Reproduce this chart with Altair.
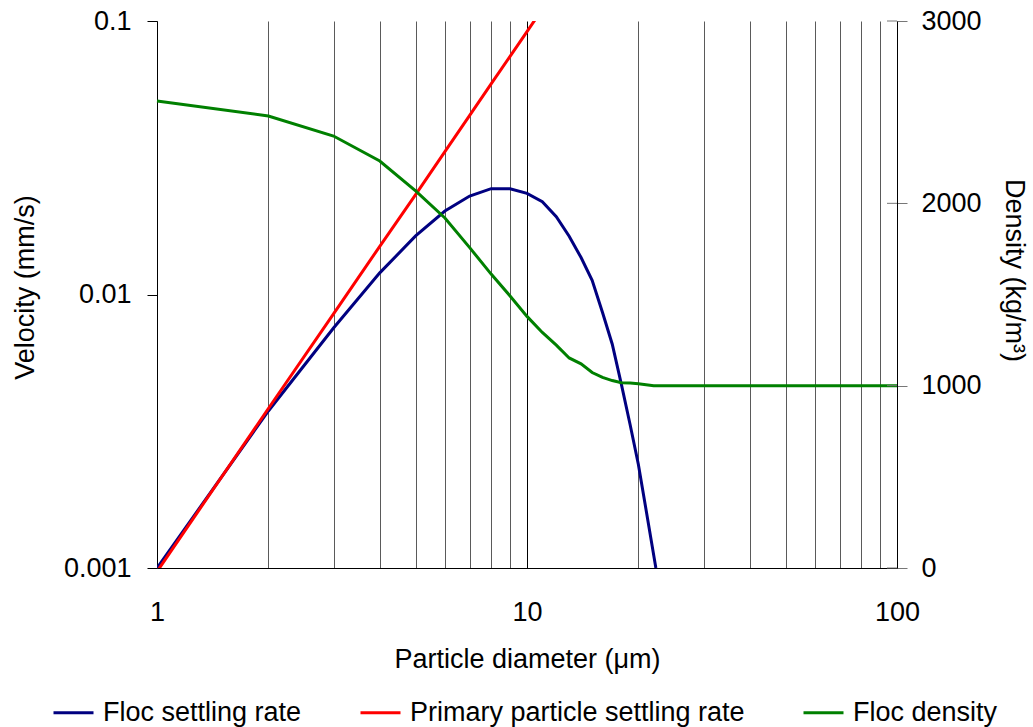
import altair as alt
import pandas as pd

# ---- data ----
series_names = ["Floc settling rate", "Primary particle settling rate", "Floc density"]
series_colors = ["#000080", "#FF0000", "#008000"]

floc_d = [1, 2, 3, 4, 5, 6, 7, 8, 9, 10, 11, 12, 13, 14, 15, 16, 17, 18, 19, 20, 21, 22.3]
floc_v = [0.001, 0.00375, 0.00754, 0.0120, 0.01637, 0.0202, 0.0229, 0.02437, 0.02437,
          0.02343, 0.02183, 0.01925, 0.01633, 0.01365, 0.01127, 0.00859, 0.00658,
          0.00468, 0.00334, 0.00239, 0.00162, 0.001]

prim_d = [1, 2, 3, 4, 5, 6, 7, 8, 9, 10, 11]
prim_v = [0.00097, 0.00383, 0.0085, 0.0150, 0.0232, 0.0333, 0.0452, 0.0589, 0.0743, 0.0915, 0.1105]

dens_d = [1, 2, 3, 4, 5, 6, 7, 8, 9, 10, 11, 12, 13, 14, 15, 16, 17, 18, 19, 20, 22,
          25, 30, 40, 50, 60, 70, 80, 90, 100]
dens_v = [2561, 2479, 2369, 2232, 2068, 1920, 1757, 1612, 1492, 1380, 1292, 1222, 1152,
          1120, 1072, 1045, 1028, 1016, 1014, 1011, 1000, 1000, 1000, 1000, 1000, 1000,
          1000, 1000, 1000, 1000]

x_ticks = [1, 2, 3, 4, 5, 6, 7, 8, 9, 10, 20, 30, 40, 50, 60, 70, 80, 90, 100]
x_label_ticks = [1, 10, 100]
vel_ticks = [0.001, 0.01, 0.1]
dens_ticks = [0, 1000, 2000, 3000]

vel_df = pd.concat([
    pd.DataFrame({"d": floc_d, "v": floc_v, "s": series_names[0]}),
    pd.DataFrame({"d": prim_d, "v": prim_v, "s": series_names[1]}),
])
dens_df = pd.DataFrame({"d": dens_d, "rho": dens_v, "s": series_names[2]})
tick_df = pd.DataFrame({"t": dens_ticks})

FONT = "Liberation Sans"
FS = 27
W, H = 740, 547

label_test = " || ".join(f"datum.value == {v}" for v in x_label_ticks)

x_enc = alt.X(
    "d:Q",
    scale=alt.Scale(type="log", domain=[1, 100], nice=False),
    axis=alt.Axis(
        values=x_ticks,
        title="Particle diameter (μm)",
        format="d",
        labelExpr=f"({label_test}) ? datum.label : ''",
        labelOverlap=False,
        labelFlush=False,
        grid=True,
        gridColor={"condition": {"test": "datum.value == 10", "value": "#000000"}, "value": "#5a5a5a"},
        gridWidth=1,
        ticks=False,
        labelPadding=31,
        titlePadding=21,
    ),
)

color_enc = alt.Color(
    "s:N",
    scale=alt.Scale(domain=series_names, range=series_colors),
    legend=alt.Legend(
        orient="none",
        legendX=-105,
        legendY=670,
        direction="horizontal",
        title=None,
        symbolType="stroke",
        symbolSize=1600,
        symbolStrokeWidth=3,
        labelFont=FONT,
        labelFontSize=FS,
        labelColor="black",
        labelLimit=800,
        labelOffset=8,
        columnPadding=52,
        padding=0,
    ),
)

vel = alt.Chart(vel_df).mark_line(strokeWidth=3, clip=True).encode(
    x=x_enc,
    y=alt.Y(
        "v:Q",
        scale=alt.Scale(type="log", domain=[0.001, 0.1], nice=False),
        axis=alt.Axis(
            values=vel_ticks,
            format="~g",
            title="Velocity (mm/s)",
            grid=False,
            tickSize=10,
            labelPadding=16,
            labelFlush=False,
            labelOverlap=False,
            titleX=-132,
            titleY=266,
            titleBaseline="middle",
        ),
    ),
    color=color_enc,
)

dens = alt.Chart(dens_df).mark_line(strokeWidth=3).encode(
    x=x_enc,
    y=alt.Y(
        "rho:Q",
        scale=alt.Scale(domain=[0, 3000], nice=False),
        axis=alt.Axis(
            orient="right",
            values=dens_ticks,
            format="d",
            title="Density (kg/m³)",
            grid=False,
            tickSize=10,
            tickColor="#777777",
            labelPadding=14,
            labelFlush=False,
            titleX=116,
            titleY=249,
            titleAngle=90,
            titleBaseline="middle",
        ),
    ),
    color=color_enc,
)

inner_ticks = alt.Chart(tick_df).mark_rule(color="#777777", strokeWidth=1).encode(
    x=alt.value(W - 10),
    x2=alt.value(W),
    y=alt.Y("t:Q", scale=alt.Scale(domain=[0, 3000], nice=False), axis=None),
)

chart = (
    alt.layer(vel, dens, inner_ticks)
    .resolve_scale(y="independent")
    .properties(
        width=W,
        height=H,
        padding={"left": 157, "top": 21, "right": 136, "bottom": 159},
        autosize=alt.AutoSizeParams(type="none"),
        background="white",
    )
    .configure_axis(
        labelFont=FONT,
        titleFont=FONT,
        labelFontSize=FS,
        titleFontSize=FS,
        labelColor="black",
        titleColor="black",
        titleFontWeight="normal",
        domainColor="black",
        domainWidth=1,
        tickColor="black",
    )
    .configure_view(stroke=None)
)

chart.save("out.html", embed_options={"renderer": "svg", "actions": False})
